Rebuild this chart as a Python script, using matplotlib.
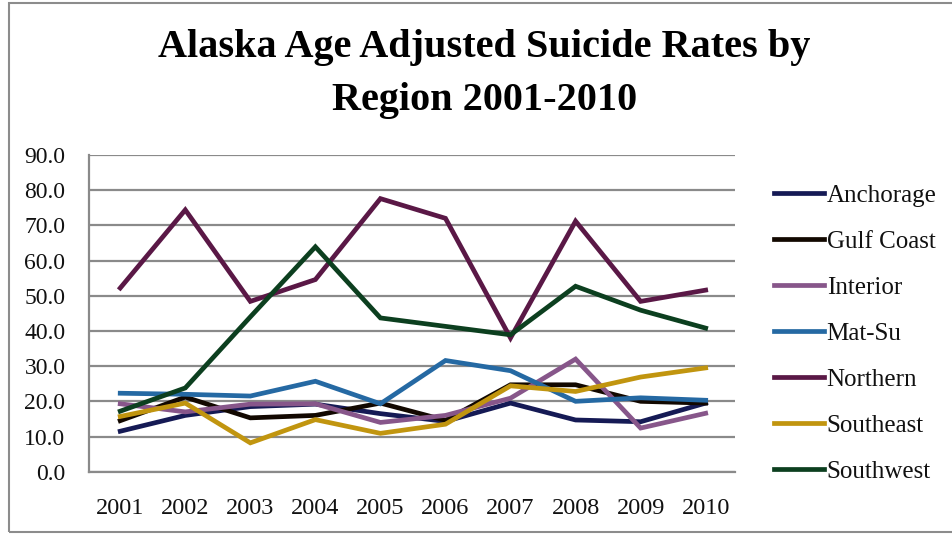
import matplotlib
matplotlib.use("Agg")
import matplotlib.pyplot as plt
from matplotlib.patches import Rectangle

# Datos
years = ['2001', '2002', '2003', '2004', '2005', '2006', '2007', '2008', '2009', '2010']
anchorage = [11.5, 16.0, 18.5, 19.2, 16.5, 14.3, 19.5, 14.7, 14.2, 19.5]
gulf_coast = [14.5, 21.2, 15.3, 16.0, 19.5, 14.6, 24.7, 24.7, 20.0, 19.5]
interior = [19.3, 17.0, 19.2, 19.3, 14.0, 16.0, 20.9, 32.0, 12.4, 16.6]
mat_su = [22.3, 22.0, 21.5, 25.7, 19.3, 31.6, 28.7, 20.0, 21.0, 20.3]
northern = [52.2, 74.4, 48.4, 54.6, 77.6, 72.0, 38.0, 71.2, 48.4, 51.6]
southeast = [15.7, 19.5, 8.2, 14.8, 10.9, 13.5, 24.4, 22.8, 26.9, 29.5]
southwest = [17.2, 23.8, 44.0, 63.9, 43.7, 41.3, 38.9, 52.7, 45.9, 40.8]

series = [
    ("Anchorage", anchorage, "#151a55"),
    ("Gulf Coast", gulf_coast, "#120800"),
    ("Interior", interior, "#87568a"),
    ("Mat-Su", mat_su, "#2569a3"),
    ("Northern", northern, "#5a1846"),
    ("Southeast", southeast, "#c1950f"),
    ("Southwest", southwest, "#0c3f1f"),
]

plt.rcParams['font.family'] = ['Liberation Serif', 'DejaVu Serif']

fig = plt.figure(figsize=(9.52, 5.35), dpi=100)
ax = fig.add_axes([0.0935, 0.1183, 0.6785, 0.592])

# marco exterior
fig.patches.append(Rectangle((0.009, 0.005), 1.2, 0.99, transform=fig.transFigure,
                             fill=False, edgecolor="#8c8c8c", lw=1.5))

x = list(range(len(years)))
for nombre, valores, color in series:
    ax.plot(x, valores, color=color, lw=3.4, label=nombre, solid_joinstyle='miter')

ax.set_xlim(-0.48, 9.45)
ax.set_ylim(0, 90)
ax.set_yticks(range(0, 91, 10))
ax.set_yticklabels([f"{v:.1f}" for v in range(0, 91, 10)])
ax.set_xticks(x)
ax.set_xticklabels(years)
ax.tick_params(axis='both', length=0, colors='#111111')
ax.tick_params(axis='x', pad=19, labelsize=17.5)
ax.tick_params(axis='y', pad=17, labelsize=17)

ax.grid(axis='y', color="#8a8a8a", lw=1.6)
ax.set_axisbelow(True)
for s in ['top', 'right']:
    ax.spines[s].set_visible(False)
ax.spines['left'].set_color("#8a8a8a")
ax.spines['left'].set_linewidth(1.6)
ax.spines['bottom'].set_color("#8a8a8a")
ax.spines['bottom'].set_linewidth(1.6)

fig.text(0.509, 0.912, "Alaska Age Adjusted Suicide Rates by", ha='center', va='center',
         fontsize=29, fontweight='bold')
fig.text(0.509, 0.812, "Region 2001-2010", ha='center', va='center',
         fontsize=29, fontweight='bold')

leg = ax.legend(loc='upper left', bbox_to_anchor=(0.8, 0.679), bbox_transform=fig.transFigure,
                frameon=False, fontsize=18, handlelength=2.0, handletextpad=0.1,
                labelspacing=0.94, borderpad=0)
for t in leg.get_texts():
    t.set_color('#111111')

fig.savefig("out.png", dpi=100)
